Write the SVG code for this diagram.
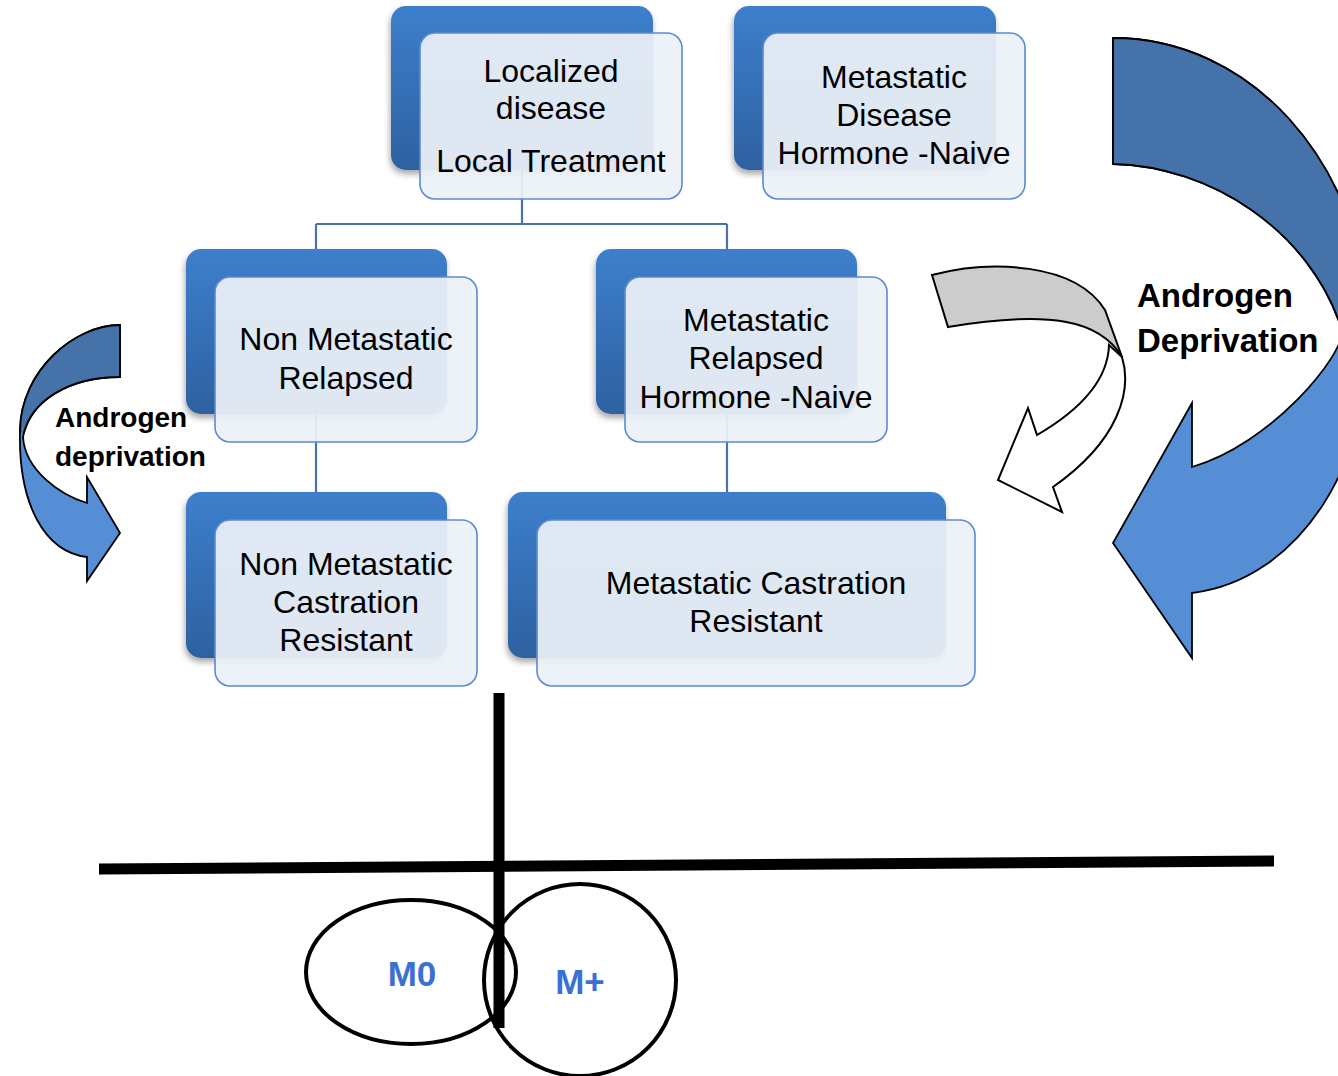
<svg xmlns="http://www.w3.org/2000/svg" width="1338" height="1076" viewBox="0 0 1338 1076">
<defs>
<linearGradient id="backGrad" x1="0" y1="0" x2="0" y2="1">
<stop offset="0" stop-color="#3d7fcc"/>
<stop offset="1" stop-color="#2e61a1"/>
</linearGradient>
<filter id="shadow" x="-10%" y="-10%" width="120%" height="125%">
<feDropShadow dx="-1" dy="4" stdDeviation="3" flood-color="#000" flood-opacity="0.35"/>
</filter>
<clipPath id="clipBigDark"><rect x="1000" y="0" width="400" height="322"/></clipPath>
<clipPath id="clipSmallDark"><rect x="0" y="300" width="140" height="133"/></clipPath>
<style>
.back{fill:url(#backGrad);filter:url(#shadow);}
.front{fill:#ecf1f8;fill-opacity:0.93;stroke:#5b8bd0;stroke-width:1.6;}
.ntext{font-family:"Liberation Sans",Arial,sans-serif;font-size:32px;fill:#000;text-anchor:middle;}
.conn{fill:none;stroke:#4a73ab;stroke-width:2.2;}
.arrowOutline{stroke:#000;stroke-width:1.8;stroke-linejoin:miter;}
.lbl{font-family:"Liberation Sans",Arial,sans-serif;font-weight:bold;fill:#000;}
.mlbl{font-family:"Liberation Sans",Arial,sans-serif;font-weight:bold;font-size:35px;fill:#3b6fd4;text-anchor:middle;}
.thick{stroke:#000;fill:none;}
</style>
</defs>
<rect width="1338" height="1076" fill="#fff"/>

<g id="connectors">
<path class="conn" d="M522,88 V224 M316,224 H727 M316,224 V331 M727,224 V331 M316,331 V492 M727,331 V492"/>
</g>

<g id="node-localized">
<rect class="back" x="391" y="6" width="262" height="164" rx="15"/>
<rect class="front" x="420" y="33" width="262" height="166" rx="15"/>
<text class="ntext" x="551" y="82">Localized</text>
<text class="ntext" x="551" y="119">disease</text>
<text class="ntext" x="551" y="172">Local Treatment</text>
</g>

<g id="node-metastatic-disease">
<rect class="back" x="734" y="6" width="262" height="164" rx="15"/>
<rect class="front" x="763" y="33" width="262" height="166" rx="15"/>
<text class="ntext" x="894" y="88">Metastatic</text>
<text class="ntext" x="894" y="126">Disease</text>
<text class="ntext" x="894" y="164">Hormone -Naive</text>
</g>

<g id="node-nm-relapsed">
<rect class="back" x="186" y="249" width="261" height="165" rx="15"/>
<rect class="front" x="215" y="277" width="262" height="165" rx="15"/>
<text class="ntext" x="346" y="350">Non Metastatic</text>
<text class="ntext" x="346" y="389">Relapsed</text>
</g>

<g id="node-m-relapsed">
<rect class="back" x="596" y="249" width="261" height="165" rx="15"/>
<rect class="front" x="625" y="277" width="262" height="165" rx="15"/>
<text class="ntext" x="756" y="331">Metastatic</text>
<text class="ntext" x="756" y="369">Relapsed</text>
<text class="ntext" x="756" y="408">Hormone -Naive</text>
</g>

<g id="node-nm-crpc">
<rect class="back" x="186" y="492" width="261" height="166" rx="15"/>
<rect class="front" x="215" y="520" width="262" height="166" rx="15"/>
<text class="ntext" x="346" y="575">Non Metastatic</text>
<text class="ntext" x="346" y="613">Castration</text>
<text class="ntext" x="346" y="651">Resistant</text>
</g>

<g id="node-m-crpc">
<rect class="back" x="508" y="492" width="438" height="166" rx="15"/>
<rect class="front" x="537" y="520" width="438" height="166" rx="15"/>
<text class="ntext" x="756" y="594">Metastatic Castration</text>
<text class="ntext" x="756" y="632">Resistant</text>
</g>

<g id="arrow-big">
<path class="arrowOutline" fill="#558ed5" d="M1113,38 C1250,38 1360,160 1370,320 C1375,460 1300,580 1192,593 L1192,658 L1113,543 L1192,403 L1192,467 C1270,445 1345,355 1342,330 C1310,230 1210,166 1113,164 Z"/>
<path class="arrowOutline" fill="#4572a9" clip-path="url(#clipBigDark)" d="M1113,38 C1250,38 1360,160 1370,320 C1375,460 1300,580 1192,593 L1192,658 L1113,543 L1192,403 L1192,467 C1270,445 1345,355 1342,330 C1310,230 1210,166 1113,164 Z"/>
<text class="lbl" font-size="33" x="1137" y="307">Androgen</text>
<text class="lbl" font-size="33" x="1137" y="352">Deprivation</text>
</g>

<g id="arrow-small">
<path class="arrowOutline" fill="#558ed5" d="M120,325 C75,325 21,370 20,430 C18,505 45,552 87,557 L87,581 L120,533 L87,477 L87,503 C60,495 25,470 23,437 C30,400 70,377 120,377 Z"/>
<path class="arrowOutline" fill="#4572a9" clip-path="url(#clipSmallDark)" d="M120,325 C75,325 21,370 20,430 C18,505 45,552 87,557 L87,581 L120,533 L87,477 L87,503 C60,495 25,470 23,437 C30,400 70,377 120,377 Z"/>
<text class="lbl" font-size="28" x="55" y="427">Androgen</text>
<text class="lbl" font-size="28" x="55" y="466">deprivation</text>
</g>

<g id="arrow-gray">
<path fill="#fff" stroke="#000" stroke-width="2" stroke-linejoin="miter" d="M1122,357 C1132,390 1120,440 1053,487 L1062,512 L998,480 L1028,408 L1037,435 C1080,410 1108,380 1109,345 Z"/>
<path fill="#cccccc" stroke="#000" stroke-width="2" stroke-linejoin="miter" d="M932,275 C990,260 1075,262 1105,310 L1122,357 C1100,320 1050,310 948,327 Z"/>
</g>

<g id="axes">
<line class="thick" x1="499" y1="693" x2="499" y2="1028" stroke-width="11"/>
<line class="thick" x1="99" y1="869" x2="1274" y2="861" stroke-width="11"/>
</g>

<g id="m0">
<ellipse cx="411" cy="972" rx="105" ry="72" fill="none" stroke="#000" stroke-width="4"/>
<text class="mlbl" x="412" y="986">M0</text>
</g>

<g id="mplus">
<ellipse cx="580" cy="980" rx="96" ry="96" fill="none" stroke="#000" stroke-width="4"/>
<text class="mlbl" x="580" y="994">M+</text>
</g>
</svg>
